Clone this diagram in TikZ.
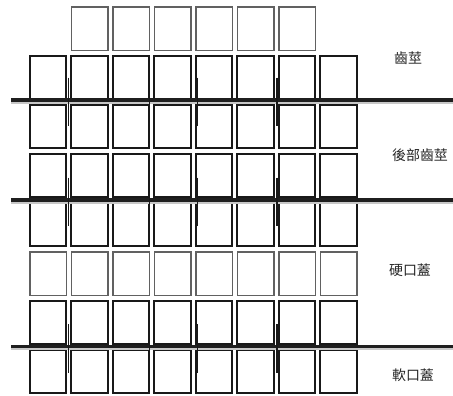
\documentclass[tikz,border=0pt]{standalone}
\usepackage{fontspec}
\newfontfamily\cjk{Noto Sans CJK TC}
\usetikzlibrary{positioning}

\tikzset{
  cell/.style={draw=black!90, line width=1.8bp, minimum width=36.5bp, minimum height=43.5bp, inner sep=0pt},
  palecell/.style={cell, draw=black!62, line width=1.5bp},
  divider/.style={draw=black!88, line width=3.6bp},
  dividershade/.style={draw=black!22, line width=2.5bp},
  bar/.style={draw=black!90, line width=1.7bp},
  zone/.style={font=\cjk\fontsize{14}{14}\selectfont, text=black!85}
}

\begin{document}
\begin{tikzpicture}[x=1bp, y=-1bp]
\useasboundingbox (0,0) rectangle (453,395);

% top row, pale, columns 2 to 7
\foreach \c in {2,...,7}
  \node[palecell] (c-1-\c) at ({48 + 41.5*(\c-1)}, 28.5) {};

% rows 2 to 8, eight cells each
\foreach \r in {2,...,8}
  \foreach \c in {1,...,8} {
    \ifnum\r=6
      \node[palecell] (c-\r-\c) at ({48 + 41.5*(\c-1)}, {28.5 + 49*(\r-1)}) {};
    \else
      \node[cell] (c-\r-\c) at ({48 + 41.5*(\c-1)}, {28.5 + 49*(\r-1)}) {};
    \fi
  }

% dividing lines
\coordinate (d1a) at (11,100);
\coordinate (d1b) at (453,100);
\coordinate (d2a) at (11,200);
\coordinate (d2b) at (453,200);
\coordinate (d3a) at (11,346.5);
\coordinate (d3b) at (453,346.5);
\foreach \d in {d1,d2,d3} {
  \draw[dividershade, transform canvas={yshift=-2.5bp}] (\d a) -- (\d b);
  \draw[divider] (\d a) -- (\d b);
}

% short bars across the dividing lines
\foreach \y in {100,200,346.5}
  \foreach \x in {68.5,149.5,197.5,277}
    \draw[bar] (\x,\y-22.5) -- (\x,\y+26);

% zone names
\node[zone] (alveolar) at (408,58) {齒莖};
\node[zone] (postalveolar) at (420,155) {後部齒莖};
\node[zone] (hardpalate) at (410,270) {硬口蓋};
\node[zone] (softpalate) at (413,375) {軟口蓋};
\end{tikzpicture}
\end{document}
